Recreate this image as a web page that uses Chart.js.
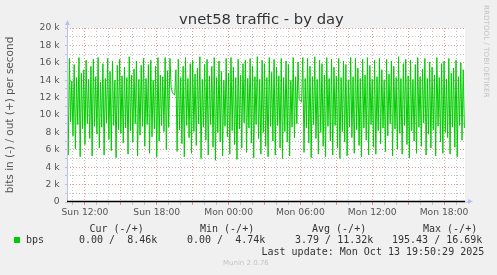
<!DOCTYPE html>
<html>
<head>
<meta charset="utf-8">
<script src="https://cdn.jsdelivr.net/npm/chart.js@4.4.0/dist/chart.umd.min.js"></script>
<style>
  body { margin: 0; background: #f0f0f0; }
  #wrap { position: relative; width: 497px; height: 275px; overflow: hidden; }
  canvas { position: absolute; left: 0; top: 0; }
  .txt { position: absolute; white-space: pre; color: #333; }
  .mono { font: 10px "DejaVu Sans Mono", monospace; line-height: 12px; color: #333; }
</style>
</head>
<body>
<div id="wrap">
  <canvas id="trafficChart" width="497" height="275"></canvas>
  <div class="txt" id="title" style="left:0;width:523px;top:10px;text-align:center;font:14.8px 'DejaVu Sans';line-height:18px;color:#333">vnet58 traffic - by day</div>
  <div class="txt" style="left:482px;top:5px;writing-mode:vertical-rl;font:7.2px 'DejaVu Sans';color:#c4c4c4">RRDTOOL / TOBI OETIKER</div>
  <div id="legend"></div>
  <div class="txt" style="left:223px;top:259px;font:7px 'DejaVu Sans';color:#c4c4c4">Munin 2.0.76</div>
</div>
<script>
// x axis: hours since Sun 00:00, one sample every 0.1 h
const startHour = 10.5;
const endHour = 43.75;
const sampleStep = 0.1;
const dayNames = ['Sun', 'Mon'];

// out traffic in kbit/s
const outK = [
  14.2, 5.4, 16.5, 9.2, 13.9, 7.6, 15.8, 6.1, 14.3, 8.9, 16.6, 5.2, 14.8, 8.4, 15.2, 6.6,
  16.3, 9.0, 14.1, 7.3, 15.6, 5.3, 16.4, 8.7, 14.4, 7.8, 16.6, 6.2, 13.8, 8.6, 15.9, 5.4,
  14.2, 9.1, 16.5, 7.2, 15.0, 5.9, 16.2, 8.8, 14.0, 5.1, 15.7, 8.3, 16.4, 7.9, 14.5, 6.8,
  15.5, 8.5, 14.3, 5.5, 16.7, 8.2, 14.6, 6.9, 15.3, 9.0, 16.2, 5.3, 14.1, 7.7, 15.7, 8.7,
  16.5, 6.4, 14.2, 8.9, 15.8, 5.6, 16.3, 7.5, 14.0, 8.4, 15.6, 5.2, 16.6, 7.0, 14.6, 8.8,
  14.4, 8.1, 16.6, 6.0, 15.1, 8.6, 16.5, 13.2, 12.6, 12.4, 12.3, 15.2, 5.8, 16.4, 8.3, 14.3,
  6.7, 15.6, 5.2, 16.6, 8.8, 14.2, 7.4, 15.9, 5.6, 16.3, 8.1, 14.7, 6.5, 15.4, 9.0, 16.7,
  5.0, 14.1, 8.6, 15.8, 7.1, 16.4, 5.4, 14.5, 8.9, 15.6, 6.3, 16.6, 4.8, 14.3, 8.0, 16.2,
  6.9, 15.0, 5.3, 14.0, 8.7, 16.5, 7.5, 14.8, 5.5, 16.6, 8.2, 15.5, 6.6, 14.3, 4.9, 16.4,
  8.4, 14.6, 6.2, 15.9, 9.1, 16.3, 5.7, 14.2, 8.5, 16.5, 6.8, 15.6, 5.1, 14.4, 8.9, 16.7,
  7.3, 14.1, 5.5, 16.3, 8.0, 15.9, 6.4, 14.3, 5.2, 16.6, 8.7, 14.9, 7.0, 16.4, 5.4, 15.5,
  8.8, 14.5, 6.2, 16.5, 5.0, 14.3, 8.1, 16.2, 6.9, 15.8, 5.3, 14.0, 8.6, 16.6, 7.4, 14.4,
  9.0, 16.1, 11.8, 11.6, 11.5, 16.6, 5.7, 14.2, 8.5, 16.5, 6.8, 15.6, 5.1, 14.4, 8.9, 16.7,
  7.3, 14.1, 5.5, 16.3, 8.0, 15.9, 6.4, 14.6, 5.2, 16.6, 8.7, 14.2, 7.0, 16.4, 5.4, 15.5,
  8.8, 14.5, 6.2, 16.5, 5.0, 14.3, 8.1, 16.2, 6.9, 15.8, 5.3, 14.0, 8.6, 16.6, 7.4, 14.4,
  5.6, 16.5, 8.3, 15.4, 6.5, 14.2, 5.2, 16.4, 8.5, 14.6, 7.1, 16.6, 5.4, 15.7, 8.9, 14.1,
  6.3, 16.3, 5.5, 14.4, 8.2, 16.5, 6.7, 15.2, 8.5, 14.0, 5.8, 16.4, 7.6, 14.7, 9.0, 16.2,
  5.3, 15.6, 8.4, 14.3, 6.1, 16.7, 7.9, 14.2, 5.5, 15.9, 8.8, 16.4, 6.6, 14.5, 5.1, 16.3,
  8.2, 14.1, 7.0, 15.8, 5.6, 16.6, 8.6, 14.4, 6.4, 15.3, 9.1, 16.5, 5.4, 14.2, 7.8, 16.1,
  6.2, 15.5, 8.3, 14.6, 5.3, 16.6, 8.7, 14.3, 6.9, 15.9, 5.6, 16.2, 8.0, 14.1, 7.4, 16.5,
  5.5, 14.8, 8.6, 15.4, 6.3, 16.3, 5.2, 14.4, 8.8, 16.0, 7.1, 15.2, 8.5
];

const legendHeaders = ['Cur (-/+)', 'Min (-/+)', 'Avg (-/+)', 'Max (-/+)'];
const legendValues = ['0.00 /  8.46k', '0.00 /  4.74k', '3.79 / 11.32k', '195.43 / 16.69k'];
const lastUpdate = 'Last update: Mon Oct 13 19:50:29 2025';

const majorColor = 'rgba(220, 120, 120, 0.75)';
const minorColor = 'rgba(190, 190, 190, 0.9)';
const axisBlue = '#b8c0f0';

// legend / footer as text
const legend = document.getElementById('legend');
const headerX = [89.5, 200, 312, 423];
const valueX = [79, 187, 295, 392];
legendHeaders.forEach((h, i) => {
    legend.insertAdjacentHTML('beforeend',
        `<div class="txt mono" style="left:${headerX[i]}px;top:223px">${h}</div>`);
});
legend.insertAdjacentHTML('beforeend',
    '<div style="position:absolute;left:14px;top:237px;width:6px;height:6px;background:#00cc00"></div>' +
    '<div class="txt mono" style="left:26px;top:234px">bps</div>');
legendValues.forEach((v, i) => {
    legend.insertAdjacentHTML('beforeend',
        `<div class="txt mono" style="left:${valueX[i]}px;top:234px">${v}</div>`);
});
legend.insertAdjacentHTML('beforeend',
    `<div class="txt mono" style="left:261.5px;top:245.5px">${lastUpdate}</div>`);

const points = outK.map((v, i) => ({ x: startHour + i * sampleStep, y: v * 1000 }));

const hourTicks = [];
for (let h = Math.ceil(startHour); h <= endHour; h++) hourTicks.push({ value: h });
const kTicks = [];
for (let v = 0; v <= 20000; v += 1000) kTicks.push({ value: v });

const plotFrame = {
    id: 'plotFrame',
    beforeDraw(chart) {
        const { ctx, chartArea: a } = chart;
        ctx.save();
        ctx.fillStyle = '#ffffff';
        ctx.fillRect(a.left, a.top, a.right - a.left, a.bottom - a.top);
        ctx.restore();
    },
    afterDatasetsDraw(chart) {
        const { ctx, chartArea: a } = chart;
        ctx.save();
        // y axis + arrow
        ctx.strokeStyle = axisBlue;
        ctx.lineWidth = 1;
        ctx.beginPath();
        ctx.moveTo(a.left + 0.5, a.bottom);
        ctx.lineTo(a.left + 0.5, a.top - 4);
        ctx.moveTo(a.right, a.bottom);
        ctx.lineTo(a.right + 4, a.bottom);
        ctx.stroke();
        ctx.fillStyle = axisBlue;
        ctx.beginPath();
        ctx.moveTo(a.left - 2, a.top - 3);
        ctx.lineTo(a.left + 3, a.top - 3);
        ctx.lineTo(a.left + 0.5, a.top - 8);
        ctx.fill();
        ctx.beginPath();
        ctx.moveTo(a.right + 3, a.bottom - 3);
        ctx.lineTo(a.right + 3, a.bottom + 2);
        ctx.lineTo(a.right + 8, a.bottom - 0.5);
        ctx.fill();
        // zero line
        ctx.strokeStyle = '#000000';
        ctx.lineWidth = 1.5;
        ctx.beginPath();
        ctx.moveTo(a.left, a.bottom - 0.5);
        ctx.lineTo(a.right, a.bottom - 0.5);
        ctx.stroke();
        ctx.restore();
    }
};

const ctx = document.getElementById('trafficChart').getContext('2d');
const trafficChart = new Chart(ctx, {
    type: 'line',
    data: {
        datasets: [{
            label: 'bps',
            data: points,
            borderColor: '#00cc00',
            borderWidth: 1,
            pointRadius: 0,
            fill: false,
            tension: 0
        }]
    },
    options: {
        responsive: false,
        animation: false,
        layout: { padding: { top: 28, right: 32, left: 0, bottom: 0 } },
        plugins: {
            legend: { display: false },
            tooltip: { enabled: false }
        },
        scales: {
            x: {
                type: 'linear',
                min: startHour,
                max: endHour,
                afterBuildTicks: (s) => { s.ticks = hourTicks.map(t => ({ value: t.value })); },
                afterFit: (s) => { s.height = 73; },
                border: { display: false, dash: [1, 2] },
                grid: {
                    color: (c) => c.tick && c.tick.value % 3 === 0 ? majorColor : minorColor,
                    tickColor: (c) => c.tick && c.tick.value % 3 === 0 ? majorColor : minorColor,
                    tickLength: 3,
                    lineWidth: 1
                },
                ticks: {
                    autoSkip: false,
                    maxRotation: 0,
                    minRotation: 0,
                    padding: 2.5,
                    color: '#555',
                    font: { family: 'DejaVu Sans', size: 9.2 },
                    callback: (v) => {
                        if (v % 6 !== 0) return '';
                        const day = dayNames[Math.floor(v / 24)];
                        const hh = String(v % 24).padStart(2, '0');
                        return day + ' ' + hh + ':00';
                    }
                }
            },
            y: {
                min: 0,
                max: 20000,
                afterBuildTicks: (s) => { s.ticks = kTicks.map(t => ({ value: t.value })); },
                afterFit: (s) => { s.width = 67; },
                border: { display: false, dash: [1, 2] },
                grid: {
                    color: (c) => {
                        if (!c.tick || c.tick.value === 0) return 'rgba(0,0,0,0)';
                        return c.tick.value % 2000 === 0 ? majorColor : minorColor;
                    },
                    tickColor: minorColor,
                    tickLength: 2,
                    lineWidth: 1
                },
                ticks: {
                    autoSkip: false,
                    padding: 5.5,
                    color: '#555',
                    font: { family: 'DejaVu Sans', size: 9.2 },
                    callback: (v) => v % 2000 !== 0 ? '' : (v === 0 ? '0' : (v / 1000) + ' k')
                },
                title: {
                    display: true,
                    text: 'bits in (-) / out (+) per second',
                    color: '#555',
                    font: { family: 'DejaVu Sans', size: 10.5 },
                    padding: { top: 4, bottom: 0 }
                }
            }
        }
    },
    plugins: [plotFrame]
});
</script>
</body>
</html>
